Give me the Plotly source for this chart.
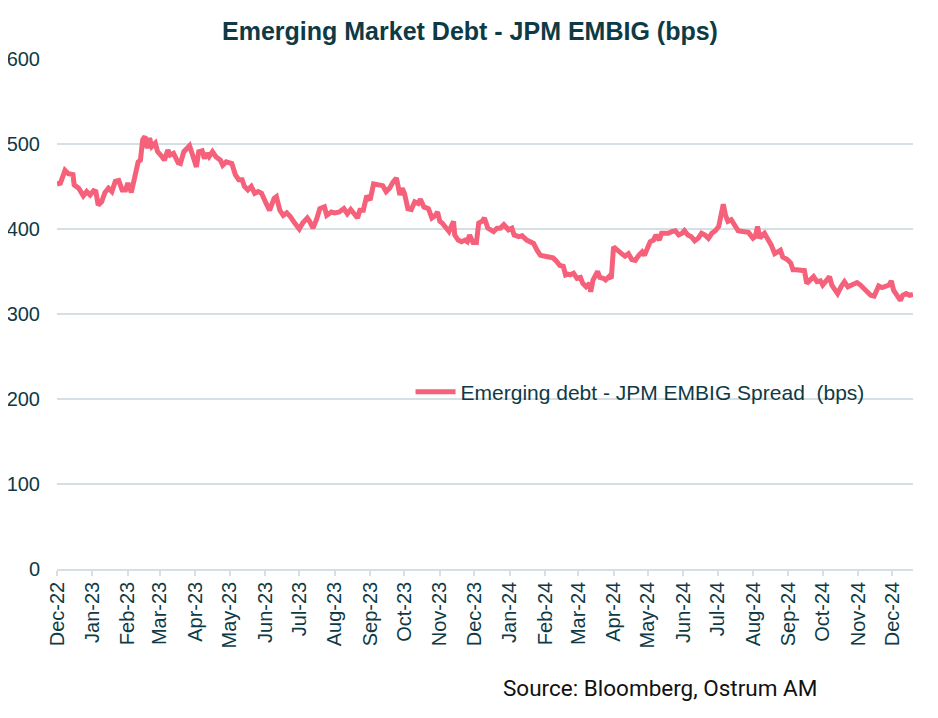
import datetime as dt
import plotly.graph_objects as go

# ---- data ----
start_date = "2022-12-01"
day_offsets = [0, 3, 7, 10, 14, 15, 19, 23, 26, 29, 32, 34, 36, 39, 42, 45, 48, 51, 54, 57,
               60, 62, 65, 69, 71, 73, 75, 77, 79, 81, 83, 86, 88, 92, 94, 97, 99, 102, 106, 108,
               111, 116, 118, 122, 124, 127, 129, 131, 133, 136, 139, 143, 145, 148, 153, 156, 159, 162, 164, 167,
               170, 173, 176, 179, 183, 186, 190, 192, 195, 198, 201, 204, 208, 212, 215, 219, 221, 224, 227, 230,
               234, 236, 240, 243, 247, 251, 254, 257, 260, 263, 265, 268, 271, 274, 277, 281, 285, 288, 291, 294,
               297, 300, 302, 304, 307, 310, 313, 316, 318, 321, 325, 328, 331, 333, 335, 337, 340, 343, 347, 348,
               351, 354, 357, 359, 361, 364, 367, 369, 372, 374, 377, 382, 385, 388, 391, 395, 398, 400, 404, 407,
               411, 414, 417, 420, 423, 427, 431, 434, 437, 440, 443, 445, 447, 449, 452, 455, 458, 460, 463, 466,
               467, 469, 473, 475, 478, 480, 483, 485, 487, 490, 494, 497, 500, 503, 506, 509, 512, 514, 517, 519,
               522, 524, 527, 529, 532, 535, 538, 541, 544, 547, 549, 552, 555, 558, 561, 564, 567, 570, 573, 576,
               579, 581, 583, 585, 587, 590, 593, 596, 600, 605, 609, 611, 613, 615, 617, 619, 622, 625, 628, 631,
               633, 635, 639, 642, 644, 647, 651, 654, 656, 659, 662, 665, 668, 670, 673, 676, 678, 681, 683, 686,
               689, 692, 695, 697, 700, 703, 706, 709, 712, 715, 717, 719, 722, 725, 728, 730, 732, 735, 738, 740,
               743, 746, 749]
spread_bps = [453, 454, 469, 465, 464, 452, 448, 439, 444, 440, 445, 444, 428, 432, 443, 448, 444, 456, 457, 446,
              446, 454, 443, 465, 479, 481, 505, 509, 495, 507, 497, 501, 491, 485, 481, 493, 487, 489, 478, 477,
              491, 498, 491, 473, 491, 492, 483, 489, 485, 491, 485, 481, 475, 479, 477, 464, 458, 458, 450, 446,
              450, 442, 444, 442, 430, 422, 436, 438, 422, 416, 419, 415, 407, 400, 407, 413, 409, 401, 411, 424,
              426, 416, 420, 419, 420, 424, 418, 423, 418, 413, 422, 422, 439, 434, 453, 452, 451, 444, 448, 455,
              460, 440, 448, 442, 424, 423, 432, 430, 435, 426, 424, 413, 416, 420, 409, 407, 403, 397, 409, 393,
              387, 385, 387, 385, 393, 384, 384, 407, 409, 413, 401, 397, 401, 401, 405, 399, 401, 393, 391, 392,
              387, 385, 383, 375, 369, 368, 367, 366, 362, 357, 356, 346, 347, 346, 348, 342, 343, 336, 332, 336,
              326, 340, 350, 343, 342, 340, 344, 342, 379, 375, 371, 368, 371, 364, 363, 369, 373, 369, 377, 385,
              387, 393, 387, 395, 395, 395, 397, 398, 393, 395, 398, 393, 391, 386, 389, 395, 393, 389, 395, 398,
              403, 420, 429, 416, 409, 411, 405, 398, 397, 396, 389, 391, 403, 389, 393, 395, 388, 381, 371, 373,
              375, 367, 364, 360, 352, 352, 352, 351, 336, 340, 344, 338, 339, 334, 338, 344, 334, 328, 324, 332,
              338, 332, 334, 336, 337, 334, 330, 326, 322, 321, 328, 333, 331, 332, 334, 339, 328, 322, 316, 322,
              324, 322, 323]
series_name = "Emerging debt - JPM EMBIG Spread  (bps)"
chart_title = "Emerging Market Debt - JPM EMBIG (bps)"
source_text = "Source: Bloomberg, Ostrum AM"
y_ticks = [0, 100, 200, 300, 400, 500, 600]

base = dt.date.fromisoformat(start_date)
dates = [base + dt.timedelta(days=d) for d in day_offsets]
month_ticks = [dt.date(2022 + (11 + i) // 12, (11 + i) % 12 + 1, 1) for i in range(25)]

TEAL = "#0E3A45"
GRID = "#D6DFE3"
LINE = "#F5607A"

# page body has an 8px margin, so the figure is 8px smaller and margins are offset
W, H = 930, 710
fig = go.Figure()
fig.add_trace(go.Scatter(x=dates, y=spread_bps, mode="lines", name=series_name,
                         line=dict(color=LINE, width=5), showlegend=True))

fig.update_layout(
    width=W, height=H,
    margin=dict(l=49, r=25, t=51, b=149),
    paper_bgcolor="white", plot_bgcolor="white",
    font=dict(family="Liberation Sans, Arial, sans-serif", size=20, color=TEAL),
    title=dict(text="<b>" + chart_title + "</b>", x=(470 - 8) / W, xref="container", xanchor="center",
               y=1 - (31 - 8) / H, yref="container", yanchor="middle",
               font=dict(family="Liberation Sans, Arial, sans-serif", size=25, color=TEAL)),
    showlegend=True,
    legend=dict(x=0.413, y=0.347, xanchor="left", yanchor="middle", bgcolor="rgba(0,0,0,0)",
                font=dict(size=21, color=TEAL), itemwidth=40, tracegroupgap=0),
)
fig.update_yaxes(range=[0, 600], tickvals=y_ticks, showgrid=True, gridcolor=GRID, gridwidth=1.5,
                 zeroline=False, showline=False, ticks="", ticklabelstandoff=16, automargin=False,
                 tickfont=dict(size=20, color=TEAL))
fig.update_xaxes(range=[dates[0], dates[-1]], tickvals=month_ticks, tickformat="%b-%y",
                 tickangle=-90, showgrid=False, showline=True, linecolor=GRID, linewidth=1.5,
                 ticks="outside", ticklen=5, tickcolor=GRID, tickwidth=1.5, automargin=False,
                 ticklabelstandoff=-2, tickfont=dict(size=20, color=TEAL))
fig.add_annotation(text=source_text, xref="paper", yref="paper", x=(501 - 57) / 856, y=-(688 - 569) / 510,
                   xanchor="left", yanchor="middle", showarrow=False,
                   font=dict(family="Roboto, Liberation Sans, sans-serif", size=22.5, color="#111111"))

fig.write_html("out.html")
